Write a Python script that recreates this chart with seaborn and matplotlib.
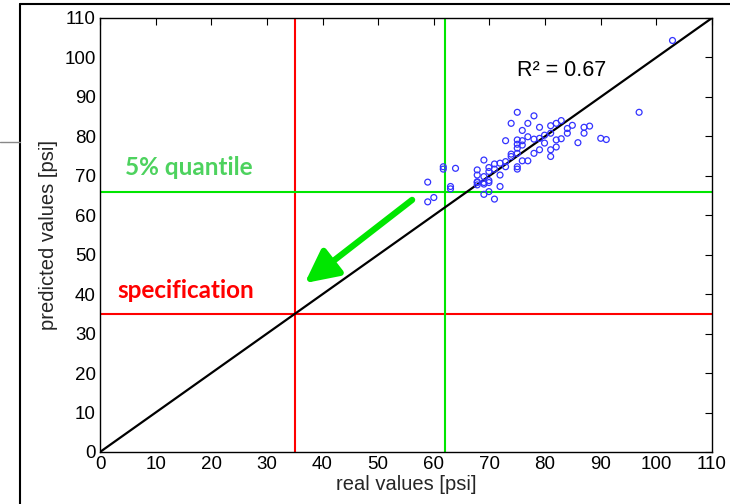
import matplotlib
matplotlib.use("Agg")
import matplotlib.pyplot as plt
from matplotlib.lines import Line2D
import seaborn as sns
import pandas as pd

# ---- data ----
real_values = [75.0, 78.0, 96.9, 73.9, 76.9, 79.0, 75.9, 81.0, 82.0, 82.9,
               84.0, 84.9, 87.0, 88.0, 87.0, 84.0, 90.0, 91.0, 85.9, 82.9,
               82.0, 82.0, 81.0, 81.0, 81.0, 79.9, 79.0, 79.9, 79.0, 78.0,
               76.9, 78.0, 75.9, 75.0, 72.9, 75.0, 75.9, 75.0, 75.0, 73.9,
               73.9, 75.9, 76.9, 72.9, 71.9, 70.9, 69.0, 72.9, 75.0, 75.0,
               69.9, 70.9, 67.8, 69.9, 71.9, 67.8, 69.0, 69.9, 67.8, 69.0,
               69.9, 69.0, 71.9, 69.9, 69.0, 70.9, 61.7, 61.7, 63.9, 63.0,
               63.0, 58.9, 58.9, 60.0, 102.9, 67.8, 67.8]
predicted_values = [86.1, 85.2, 86.1, 83.3, 83.3, 82.3, 81.5, 82.7, 83.3, 84.0,
                    82.0, 82.8, 82.3, 82.6, 80.8, 80.8, 79.5, 79.2, 78.4, 79.4,
                    79.1, 77.3, 76.6, 74.9, 80.8, 80.3, 79.5, 78.3, 76.6, 75.7,
                    79.9, 79.3, 78.9, 79.1, 78.9, 78.0, 77.8, 77.0, 75.7, 75.5,
                    74.9, 73.8, 73.8, 73.6, 73.2, 73.0, 74.0, 72.3, 72.3, 71.7,
                    72.1, 71.7, 71.5, 71.1, 70.2, 70.2, 69.8, 68.8, 68.5, 68.3,
                    68.3, 67.9, 67.3, 66.0, 65.3, 64.1, 72.3, 71.7, 71.9, 67.3,
                    66.7, 68.4, 63.4, 64.5, 104.3, 68.3, 67.7]
diag = [0, 110]
quantile_5 = 66
quantile_x = 62
spec = 35
r2_text = "R\u00b2 = 0.67"
ticks = list(range(0, 111, 10))

df = pd.DataFrame({"real": real_values, "pred": predicted_values})
df_diag = pd.DataFrame({"x": diag, "y": diag})

sns.set_style("white")
plt.rcParams["font.family"] = ["Liberation Sans", "DejaVu Sans"]

fig = plt.figure(figsize=(7.3, 5.04), dpi=100)
ax = fig.add_axes([100 / 730, 1 - 452 / 504, 612 / 730, 434 / 504])

sns.lineplot(data=df_diag, x="x", y="y", ax=ax, color="black", lw=1.6, zorder=3)
ax.axvline(spec, color="#ff0000", lw=1.5, zorder=2)
ax.axhline(spec, color="#ff0000", lw=1.5, zorder=2)
ax.axvline(quantile_x, color="#00e600", lw=1.5, zorder=2)
ax.axhline(quantile_5, color="#00e600", lw=1.5, zorder=2)
sns.scatterplot(data=df, x="real", y="pred", ax=ax, marker="o", s=18,
                facecolor="none", edgecolor="#3333ff", linewidth=0.9, zorder=4)

ax.annotate("", xy=(36.8, 42.8), xytext=(56.1, 63.9),
            arrowprops=dict(arrowstyle="-|>,head_length=1.0,head_width=0.5",
                            lw=4.5, color="#00e600", shrinkA=0, shrinkB=0,
                            mutation_scale=20), zorder=5)

ax.text(4.5, 72, "5% quantile", color="#4dd25e", fontsize=17.5, fontweight="bold",
        family=["Lato", "DejaVu Sans"], va="center", ha="left")
ax.text(3.2, 41, "specification", color="#ff0000", fontsize=17.5, fontweight="bold",
        family=["Lato", "DejaVu Sans"], va="center", ha="left")
ax.text(75.0, 96.8, r2_text, color="black", fontsize=15.5, va="center", ha="left")

ax.set_xlim(0, 110)
ax.set_ylim(0, 110)
ax.set_xticks(ticks)
ax.set_yticks(ticks)
ax.tick_params(direction="in", length=5, width=0.8, top=True, right=True,
               labelsize=13.5, colors="black", pad=3)
for sp in ax.spines.values():
    sp.set_color("black")
    sp.set_linewidth(1.0)
ax.set_xlabel("real values [psi]", fontsize=14.5, labelpad=1)
ax.set_ylabel("predicted values [psi]", fontsize=14.5, labelpad=5)

# screenshot frame lines
fig.add_artist(Line2D([20 / 730, 20 / 730], [0, 1 - 4 / 504], color="black", lw=1.5,
                      transform=fig.transFigure))
fig.add_artist(Line2D([20 / 730, 1], [1 - 4 / 504, 1 - 4 / 504], color="black", lw=1.5,
                      transform=fig.transFigure))
fig.add_artist(Line2D([0, 20 / 730], [1 - 142 / 504, 1 - 142 / 504], color="#888888",
                      lw=1.0, transform=fig.transFigure))

fig.savefig("out.png", dpi=100)
